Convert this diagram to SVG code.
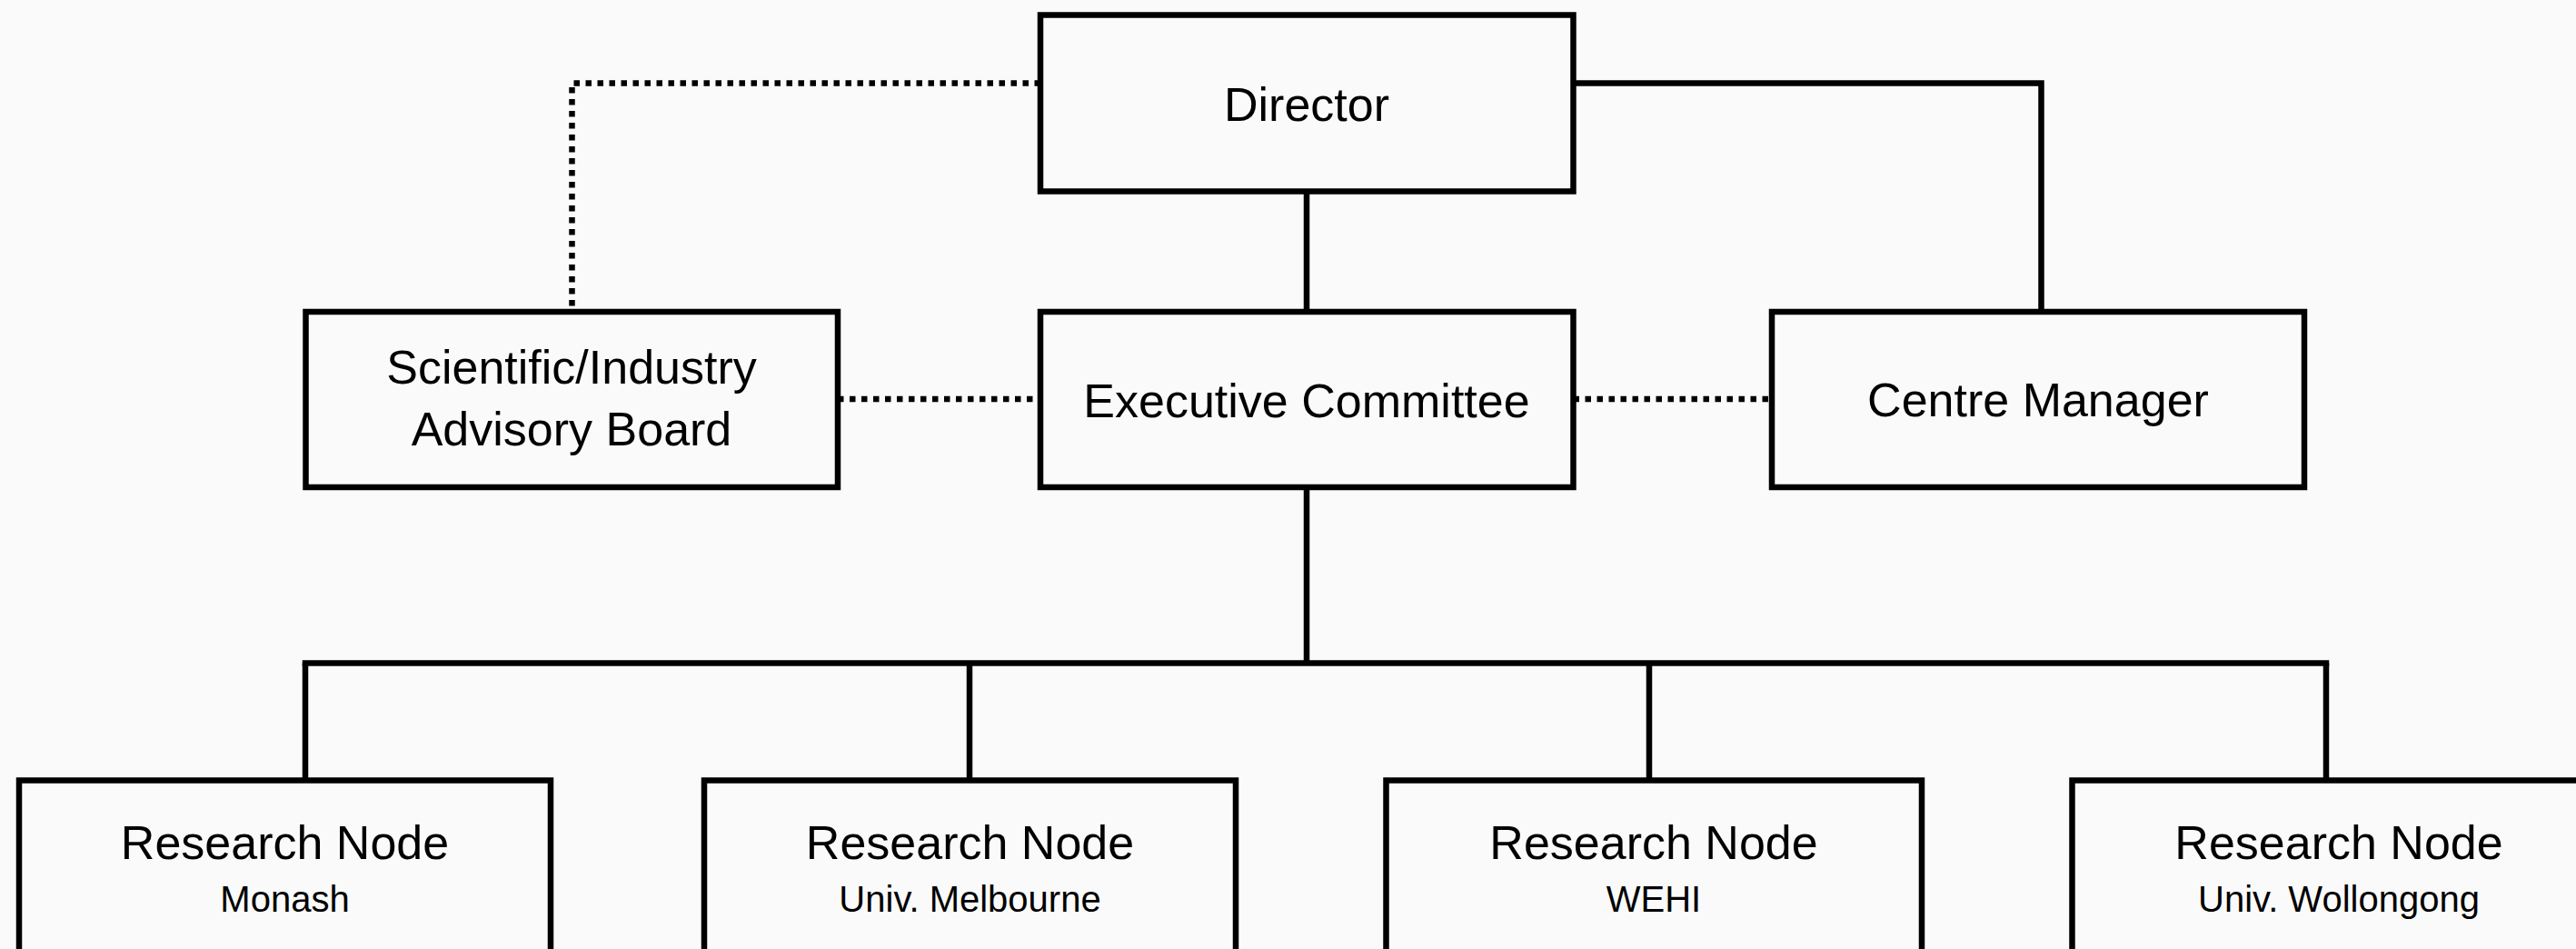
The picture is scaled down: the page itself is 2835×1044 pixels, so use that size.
<svg xmlns="http://www.w3.org/2000/svg" width="2835" height="1044" viewBox="0 0 2835 1044">
  <style>
    .box { fill: #fafafa; stroke: #000; stroke-width: 6.5; }
    .solid { fill: none; stroke: #000; stroke-width: 6.5; stroke-linecap: butt; }
    .dotted { fill: none; stroke: #000; stroke-width: 6.5; stroke-dasharray: 6.5 6.5; stroke-linecap: butt; }
    .lbl { font-family: "Liberation Sans", Arial, sans-serif; font-size: 52px; fill: #000; text-anchor: middle; }
    .sub { font-family: "Liberation Sans", Arial, sans-serif; font-size: 40px; fill: #000; text-anchor: middle; }
  </style>
  <rect x="0" y="0" width="2835" height="1044" fill="#fafafa"/>

  <g id="connectors">
    <path class="dotted" d="M1145,91.5 H629.5 V343"/>
    <path class="solid" d="M1731.5,91.5 H2246.5 V343"/>
    <path class="solid" d="M1438,210.5 V343"/>
    <path class="dotted" d="M922,439 H1145"/>
    <path class="dotted" d="M1731.5,439 H1950"/>
    <path class="solid" d="M1438,536 V729.5"/>
    <path class="solid" d="M332.75,729.5 H2563.25"/>
    <path class="solid" d="M336,729.5 V858.5"/>
    <path class="solid" d="M1067,729.5 V858.5"/>
    <path class="solid" d="M1815,729.5 V858.5"/>
    <path class="solid" d="M2560,729.5 V858.5"/>
  </g>

  <g id="director">
    <rect class="box" x="1145" y="16.5" width="586.5" height="194"/>
    <text class="lbl" x="1438" y="133">Director</text>
  </g>

  <g id="advisory-board">
    <rect class="box" x="336.5" y="343" width="585.5" height="193"/>
    <text class="lbl" x="629" y="422">Scientific/Industry</text>
    <text class="lbl" x="629" y="490">Advisory Board</text>
  </g>

  <g id="executive-committee">
    <rect class="box" x="1145" y="343" width="586.5" height="193"/>
    <text class="lbl" x="1438" y="459">Executive Committee</text>
  </g>

  <g id="centre-manager">
    <rect class="box" x="1950" y="343" width="586" height="193"/>
    <text class="lbl" x="2243" y="458">Centre Manager</text>
  </g>

  <g id="node-monash">
    <rect class="box" x="21" y="858.5" width="585" height="193"/>
    <text class="lbl" x="313.5" y="945">Research Node</text>
    <text class="sub" x="313.5" y="1003">Monash</text>
  </g>

  <g id="node-melbourne">
    <rect class="box" x="775" y="858.5" width="585" height="193"/>
    <text class="lbl" x="1067.5" y="945">Research Node</text>
    <text class="sub" x="1067.5" y="1003">Univ. Melbourne</text>
  </g>

  <g id="node-wehi">
    <rect class="box" x="1525.5" y="858.5" width="589.5" height="193"/>
    <text class="lbl" x="1820" y="945">Research Node</text>
    <text class="sub" x="1820" y="1003">WEHI</text>
  </g>

  <g id="node-wollongong">
    <rect class="box" x="2280.5" y="858.5" width="587" height="193"/>
    <text class="lbl" x="2574" y="945">Research Node</text>
    <text class="sub" x="2574" y="1003">Univ. Wollongong</text>
  </g>
</svg>
